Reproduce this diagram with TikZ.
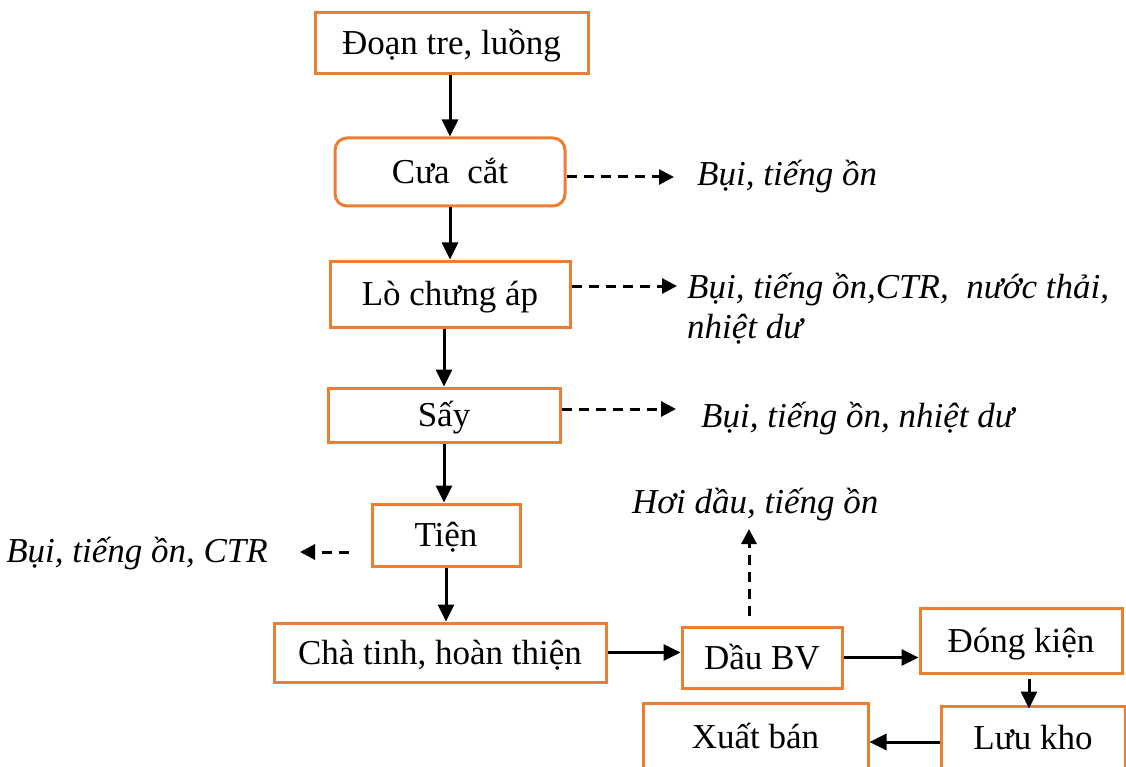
\documentclass[tikz,border=0pt]{standalone}
\usepackage{fontspec}
\setmainfont{Liberation Serif}
\usetikzlibrary{arrows.meta}
\definecolor{boxorange}{HTML}{ED7D31}
\begin{document}
\begin{tikzpicture}[x=1pt,y=-1pt,
  box/.style={draw=boxorange,line width=3pt,inner sep=0pt,text height=31pt,text depth=8pt,font=\fontsize{35}{40}\selectfont},
  flow/.style={line width=3pt,-{Triangle[length=17pt,width=16pt]}},
  emit/.style={line width=3pt,dash pattern=on 10pt off 7pt,-{Triangle[length=15pt,width=15pt]}},
  lbl/.style={inner sep=0pt,font=\fontsize{35}{40}\selectfont\itshape}]
\useasboundingbox (0,0) rectangle (1126,767);
\clip (0,0) rectangle (1126,767);
\fill[white] (0,0) rectangle (1126,767);

\node[box,minimum width=273pt,minimum height=61pt] (doan) at (451.5,43.5) {Đoạn tre, luồng};
\node[box,rounded corners=12pt,minimum width=230pt,minimum height=68pt] (cua) at (450,172) {Cưa~ cắt};
\node[box,minimum width=240pt,minimum height=66pt] (lo) at (450,294) {Lò chưng áp};
\node[box,minimum width=232pt,minimum height=54pt] (say) at (444,415) {Sấy};
\node[box,minimum width=148pt,minimum height=62pt] (tien) at (446,535) {Tiện};
\node[box,minimum width=332pt,minimum height=59pt] (cha) at (440,652.5) {Chà tinh, hoàn thiện};
\node[box,minimum width=160pt,minimum height=61pt] (dau) at (762,657.5) {Dầu BV};
\node[box,minimum width=202pt,minimum height=65pt] (dong) at (1021,640.5) {Đóng kiện};
\node[box,minimum width=184pt,minimum height=64pt] (luu) at (1033,738) {Lưu kho};
\node[box,minimum width=225pt,minimum height=67pt] (xuat) at (755.5,736.5) {Xuất bán};

\node[lbl,anchor=base west] (l1) at (697,186) {Bụi, tiếng ồn};
\node[lbl,anchor=base west] (l2) at (687,298) {Bụi, tiếng ồn,CTR,~ nước thải,};
\node[lbl,anchor=base west] (l2b) at (687,338) {nhiệt dư};
\node[lbl,anchor=base west] (l3) at (701,427) {Bụi, tiếng ồn, nhiệt dư};
\node[lbl,anchor=base east] (l4) at (268,562) {Bụi, tiếng ồn, CTR};
\node[lbl,anchor=base west] (l5) at (632,513) {Hơi dầu, tiếng ồn};

\draw[flow] (doan.south -| cua.north) -- (cua.north);
\draw[flow] (cua) -- (lo);
\draw[flow] (lo.south -| say.north) -- (say.north);
\draw[flow] (say.south) -- (say.south |- tien.north);
\draw[flow] (tien.south) -- (tien.south |- cha.north);
\draw[flow] (cha.east) -- (cha.east -| dau.west);
\draw[flow] (dau.east) -- (dau.east -| dong.west);
\draw[flow] ([shift={(8,4)}]dong.south) -- ([shift={(8,4)}]dong.south |- luu.north);
\draw[flow] ([shift={(0,4)}]luu.west) -- ([shift={(0,4)}]luu.west -| xuat.east);

\coordinate (e1) at (674,177);
\coordinate (e2) at (677,286);
\coordinate (e3) at (676,409);
\coordinate (e4) at (300,552);
\coordinate (e5) at (749,529);
\draw[emit] (cua.east |- e1) -- (e1);
\draw[emit] (lo.east |- e2) -- (e2);
\draw[emit] (say.east |- e3) -- (e3);
\draw[emit] ([xshift=-22pt]tien.west |- e4) -- (e4);
\draw[emit] ([yshift=10pt]dau.north -| e5) -- (e5);
\end{tikzpicture}
\end{document}
